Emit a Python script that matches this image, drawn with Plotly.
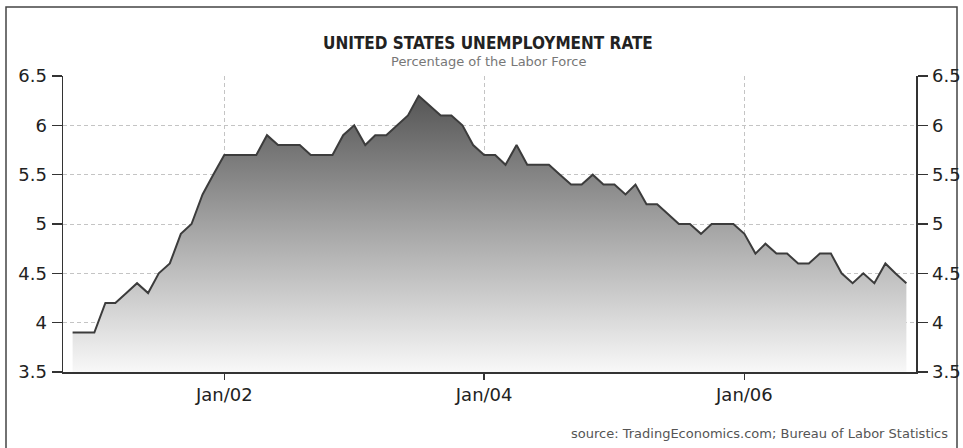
import plotly.graph_objects as go
import pandas as pd

# Monthly unemployment rate (%) as plotted, Nov 2000 - Apr 2007
start_month = "2000-11-01"
n_months = 78
rates = [
    3.9, 3.9,                                                   # 2000 Nov-Dec
    3.9, 4.2, 4.2, 4.3, 4.4, 4.3, 4.5, 4.6, 4.9, 5.0, 5.3, 5.5,  # 2001
    5.7, 5.7, 5.7, 5.7, 5.9, 5.8, 5.8, 5.8, 5.7, 5.7, 5.7, 5.9,  # 2002
    6.0, 5.8, 5.9, 5.9, 6.0, 6.1, 6.3, 6.2, 6.1, 6.1, 6.0, 5.8,  # 2003
    5.7, 5.7, 5.6, 5.8, 5.6, 5.6, 5.6, 5.5, 5.4, 5.4, 5.5, 5.4,  # 2004
    5.4, 5.3, 5.4, 5.2, 5.2, 5.1, 5.0, 5.0, 4.9, 5.0, 5.0, 5.0,  # 2005
    4.9, 4.7, 4.8, 4.7, 4.7, 4.6, 4.6, 4.7, 4.7, 4.5, 4.4, 4.5,  # 2006
    4.4, 4.6, 4.5, 4.4,                                          # 2007 Jan-Apr
]
dates = pd.date_range(start_month, periods=n_months, freq="MS")

x_tick_vals = ["2002-01-01", "2004-01-01", "2006-01-01"]
x_tick_text = ["Jan/02", "Jan/04", "Jan/06"]
y_tick_vals = [3.5, 4, 4.5, 5, 5.5, 6, 6.5]
y_tick_text = ["3.5", "4", "4.5", "5", "5.5", "6", "6.5"]

title_text = "UNITED STATES UNEMPLOYMENT RATE"
subtitle_text = "Percentage of the Labor Force"
source_text = "source: TradingEconomics.com; Bureau of Labor Statistics"

fig = go.Figure()
fig.add_trace(go.Scatter(
    x=dates, y=rates, mode="lines",
    line=dict(color="#3c3c3c", width=2),
    fill="tozeroy",
    fillgradient=dict(type="vertical", start=3.5, stop=6.3,
                      colorscale=[[0, "#f8f8f8"], [0.5, "#a8a8a8"], [1, "#555555"]]),
    hoverinfo="skip", showlegend=False,
))
# invisible copy to attach the right-hand axis
fig.add_trace(go.Scatter(
    x=dates, y=rates, mode="lines", yaxis="y2",
    line=dict(color="rgba(0,0,0,0)", width=0),
    hoverinfo="skip", showlegend=False,
))

axis_font = dict(family="DejaVu Sans", size=18, color="#222222")

W, H = 963, 448
PL, PR, PT, PB = 63, 916, 76, 372
L, R, T, B = PL, W - PR, PT, H - PB

grid_dash = "4px,3px"

fig.update_layout(
    width=W, height=H,
    margin=dict(l=L, r=R, t=T, b=B, autoexpand=False),
    paper_bgcolor="white", plot_bgcolor="white",
    xaxis=dict(
        type="date", range=["2000-10-05", "2007-04-28"],
        tickvals=x_tick_vals, ticktext=x_tick_text,
        ticks="outside", ticklen=6, tickwidth=1.5, tickcolor="#333333",
        showline=True, linecolor="#333333", linewidth=1.5,
        showgrid=True, gridcolor="#c4c4c4", griddash=grid_dash, gridwidth=1,
        tickfont=axis_font, zeroline=False, ticklabelstandoff=0,
    ),
    yaxis=dict(
        range=[3.5, 6.5], tickvals=y_tick_vals, ticktext=y_tick_text,
        ticks="outside", ticklen=10, tickwidth=1.5, tickcolor="#333333",
        showline=True, linecolor="#333333", linewidth=1.5,
        showgrid=True, gridcolor="#c4c4c4", griddash=grid_dash, gridwidth=1,
        tickfont=axis_font, zeroline=False, ticklabelstandoff=1,
    ),
    yaxis2=dict(
        range=[3.5, 6.5], tickvals=y_tick_vals, ticktext=y_tick_text,
        overlaying="y", side="right",
        ticks="outside", ticklen=10, tickwidth=1.5, tickcolor="#333333",
        showline=True, linecolor="#333333", linewidth=1.5,
        showgrid=False, zeroline=False,
        tickfont=axis_font, ticklabelstandoff=1,
    ),
)

pw, ph = PR - PL, PB - PT
def px(xp):
    return (xp - L) / pw
def py(yp):
    return (PB - yp) / ph

fig.add_shape(type="rect", xref="paper", yref="paper",
              x0=px(6), x1=px(957), y0=py(452), y1=py(7),
              line=dict(color="#444444", width=1.5), fillcolor="rgba(0,0,0,0)",
              layer="below")

fig.add_annotation(text="<b>" + title_text + "</b>", xref="paper", yref="paper",
                   x=px(488), y=py(43), xanchor="center", yanchor="middle",
                   showarrow=False,
                   font=dict(family="DejaVu Sans Condensed", size=17, color="#222222"))
fig.add_annotation(text=subtitle_text, xref="paper", yref="paper",
                   x=px(488), y=py(62), xanchor="center", yanchor="middle",
                   showarrow=False,
                   font=dict(family="DejaVu Sans", size=13, color="#777777"))
fig.add_annotation(text=source_text, xref="paper", yref="paper",
                   x=px(950), y=py(433), xanchor="right", yanchor="middle",
                   showarrow=False,
                   font=dict(family="DejaVu Sans", size=13, color="#555555"))

fig.write_html(
    "out.html",
    config={"displayModeBar": False, "staticPlot": True},
    post_script="document.body.style.margin='0';document.body.style.overflow='hidden';",
)
